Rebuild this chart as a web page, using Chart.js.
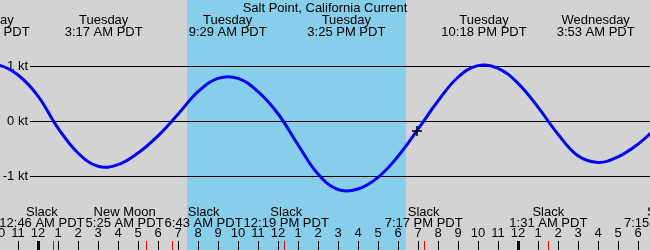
<!DOCTYPE html>
<html lang="en">
<head>
<meta charset="utf-8">
<title>Salt Point, California Current</title>
<script src="https://cdn.jsdelivr.net/npm/chart.js"></script>
<style>
  html, body { margin: 0; padding: 0; background: #d3d3d3; }
</style>
</head>
<body>
<canvas id="tideChart" width="650" height="250"></canvas>
<script>
// hours counted from Tuesday 00:00 PDT, current in knots (+ flood, - ebb)
const curveHours = [-3, -2, -1, 0, 1, 2, 3, 4, 5, 6, 7, 8, 9, 10, 11, 12, 13, 14, 15, 16,
                    17, 18, 19, 20, 21, 22, 23, 24, 25, 26, 27, 28, 29, 30, 31, 32];
const curveKnots = [0.97, 1.02, 0.84, 0.46, -0.12, -0.57, -0.81, -0.78, -0.57, -0.26, 0.13, 0.54, 0.78, 0.78, 0.54, 0.14, -0.42, -0.95, -1.23, -1.22,
                    -1.01, -0.63, -0.14, 0.37, 0.80, 1.01, 0.96, 0.69, 0.26, -0.23, -0.62, -0.74, -0.64, -0.41, -0.09, 0.22];

// max flood / max ebb labels along the top
const peakHours = [-2.37, 3.283, 9.483, 15.417, 22.3, 27.883];
const peakDays = ['Monday', 'Tuesday', 'Tuesday', 'Tuesday', 'Tuesday', 'Wednesday'];
const peakTimes = ['9:38 PM PDT', '3:17 AM PDT', '9:29 AM PDT', '3:25 PM PDT', '10:18 PM PDT', '3:53 AM PDT'];

// slack water and moon phase along the bottom
const eventHours = [0.767, 5.417, 6.717, 12.317, 19.283, 25.517, 31.25];
const eventNames = ['Slack', 'New Moon', 'Slack', 'Slack', 'Slack', 'Slack', 'Slack'];
const eventTimes = ['12:46 AM PDT', '5:25 AM PDT', '6:43 AM PDT', '12:19 PM PDT', '7:17 PM PDT', '1:31 AM PDT', '7:15 AM PDT'];

const sunRise = 7.45;
const sunSet = 18.4;
const nowHour = 18.95;
const nowKnots = -0.17;
const knotTicks = [1, 0, -1];
const hourTicks = [-2, -1, 0, 1, 2, 3, 4, 5, 6, 7, 8, 9, 10, 11, 12, 13, 14, 15, 16, 17, 18, 19, 20, 21, 22, 23, 24, 25, 26, 27, 28, 29, 30];

const FONT = '13px "Liberation Sans", Arial, sans-serif';

// push overlapping labels apart, keeping each cluster centred on its events
const spreadLabels = (items, gap) => {
    const groups = [];
    items.forEach(it => {
        groups.push({ items: [it], w: it.w });
        while (groups.length > 1) {
            const g = groups[groups.length - 1];
            const p = groups[groups.length - 2];
            if (placeGroup(p) + p.w + gap <= placeGroup(g)) break;
            g.items.forEach(i => p.items.push(i));
            p.w += gap + g.w;
            groups.pop();
        }
    });
    groups.forEach(g => {
        let left = placeGroup(g);
        g.items.forEach(i => { i.cx = left + i.w / 2; left += i.w + gap; });
    });
    function placeGroup(g) {
        let off = 0, sum = 0;
        g.items.forEach(i => { sum += i.x - i.w / 2 - off; off += i.w + gap; });
        return sum / g.items.length;
    }
};

const drawLabels = (ctx, xs, line1, line2, y1, y2) => {
    const items = xs.map((px, i) => ({
        x: px,
        w: Math.max(ctx.measureText(line1[i]).width, ctx.measureText(line2[i]).width),
        i: i
    }));
    spreadLabels(items, 1);
    items.forEach(it => {
        ctx.fillText(line1[it.i], it.cx, y1);
        ctx.fillText(line2[it.i], it.cx, y2);
    });
};

const tidePlugin = {
    id: 'tidePlugin',
    beforeDraw(chart) {
        const { ctx, width, height } = chart;
        const x = chart.scales.x, y = chart.scales.y;
        ctx.save();
        ctx.fillStyle = '#d3d3d3';
        ctx.fillRect(0, 0, width, height);
        const x1 = x.getPixelForValue(sunRise), x2 = x.getPixelForValue(sunSet);
        ctx.fillStyle = '#87ceeb';
        ctx.fillRect(x1, 0, x2 - x1, height);

        ctx.font = FONT;
        ctx.fillStyle = '#000';
        ctx.strokeStyle = '#000';
        ctx.lineWidth = 1;

        // knot grid lines
        ctx.textAlign = 'right';
        ctx.textBaseline = 'middle';
        knotTicks.forEach(v => {
            const py = Math.floor(y.getPixelForValue(v)) + 0.5;
            ctx.beginPath();
            ctx.moveTo(30, py);
            ctx.lineTo(width, py);
            ctx.stroke();
            ctx.fillText(v + ' kt', 28, py);
        });

        // title and peak labels
        ctx.textAlign = 'center';
        ctx.textBaseline = 'alphabetic';
        ctx.fillText('Salt Point, California Current', width / 2, 12);
        drawLabels(ctx, peakHours.map(h => x.getPixelForValue(h)), peakDays, peakTimes, 24, 36);

        // slack / moon labels
        drawLabels(ctx, eventHours.map(h => x.getPixelForValue(h)), eventNames, eventTimes, 216, 227);

        // hour axis
        hourTicks.forEach(h => {
            const px = Math.round(x.getPixelForValue(h));
            const hr = ((h % 12) + 12) % 12;
            ctx.fillText(hr === 0 ? '12' : String(hr), px, 237);
            const midnight = ((h % 24) + 24) % 24 === 0;
            ctx.fillRect(midnight ? px - 1 : px, 241, midnight ? 3 : 1, 9);
        });
        ctx.fillStyle = '#ff0000';
        eventHours.forEach(h => {
            const px = Math.round(x.getPixelForValue(h));
            ctx.fillRect(px, 241, 1, 9);
        });
        ctx.restore();
    }
};

const ctx = document.getElementById('tideChart').getContext('2d');
const tideChart = new Chart(ctx, {
    type: 'line',
    data: {
        datasets: [
            {
                data: [{ x: nowHour, y: nowKnots }],
                showLine: false,
                pointStyle: 'cross',
                pointRadius: 5,
                borderColor: '#000',
                borderWidth: 1.5,
                order: 0
            },
            {
                data: curveHours.map((h, i) => ({ x: h, y: curveKnots[i] })),
                borderColor: '#0000ff',
                borderWidth: 3,
                pointRadius: 0,
                tension: 0.4,
                fill: false,
                order: 1
            }
        ]
    },
    options: {
        responsive: false,
        devicePixelRatio: 1,
        animation: false,
        layout: { padding: 0, autoPadding: false },
        scales: {
            x: { type: 'linear', min: -1.9, max: 30.6, display: false },
            y: { min: -2.324, max: 2.197, display: false }
        },
        plugins: {
            legend: { display: false },
            tooltip: { enabled: false }
        }
    },
    plugins: [tidePlugin]
});
</script>
</body>
</html>
